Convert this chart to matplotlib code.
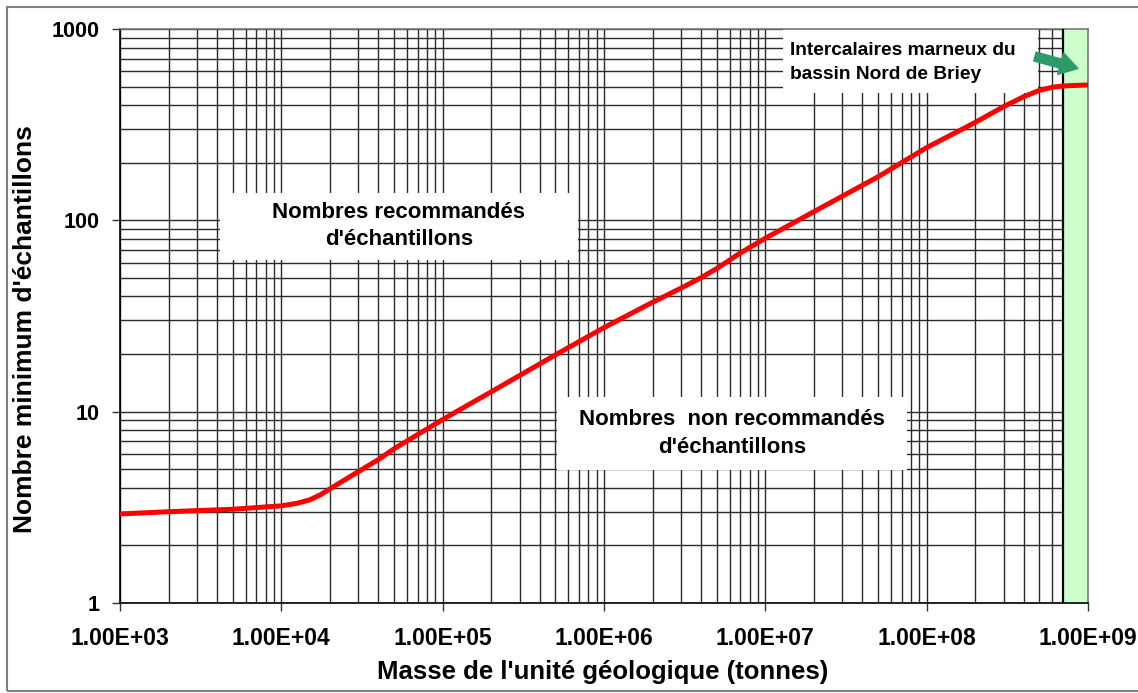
import matplotlib
matplotlib.use("Agg")
import matplotlib.pyplot as plt
from matplotlib.patches import Rectangle
from matplotlib.ticker import LogLocator, FixedLocator, NullFormatter

plt.rcParams['font.family'] = ['Liberation Sans', 'DejaVu Sans']
plt.rcParams['font.weight'] = 'bold'

# Data
masse = [1e3, 2e3, 5e3, 1e4, 1.25e4, 1.5e4, 1.75e4, 2e4, 3e4, 4e4, 5e4, 1e5, 2e5, 5e5,
         1e6, 2e6, 3e6, 4e6, 5e6, 7e6, 1e7, 2e7, 5e7, 1e8, 2e8, 3e8, 4e8, 5e8, 6e8, 7e8, 1e9]
nombre = [2.92, 3.0, 3.09, 3.22, 3.32, 3.46, 3.68, 3.95, 4.86, 5.62, 6.40, 9.1, 12.7, 19.8,
          27.5, 37.3, 44.2, 50.2, 56.0, 67.5, 80.6, 111, 169, 240, 325, 393, 443, 478, 496, 504, 510]
x_ticks = [1e3, 1e4, 1e5, 1e6, 1e7, 1e8, 1e9]
x_ticklabels = ["1.00E+03", "1.00E+04", "1.00E+05", "1.00E+06", "1.00E+07", "1.00E+08", "1.00E+09"]
y_ticks = [1, 10, 100, 1000]
y_ticklabels = ["1", "10", "100", "1000"]
zone_marneux = (7e8, 1e9)

fig = plt.figure(figsize=(11.38, 6.93), dpi=100)
ax = fig.add_axes([120/1138, 1-603/693, (1088-120)/1138, (603-29)/693])

ax.set_xscale('log')
ax.set_yscale('log')
ax.set_xlim(1e3, 1e9)
ax.set_ylim(1, 1000)

# grid
ax.xaxis.set_major_locator(FixedLocator(x_ticks))
ax.yaxis.set_major_locator(FixedLocator(y_ticks))
ax.xaxis.set_minor_locator(LogLocator(base=10, subs=range(2, 10)))
ax.yaxis.set_minor_locator(LogLocator(base=10, subs=range(2, 10)))
ax.xaxis.set_minor_formatter(NullFormatter())
ax.yaxis.set_minor_formatter(NullFormatter())
ax.grid(True, which='both', color='#2a2a2a', lw=1.0, zorder=0)
ax.set_axisbelow(True)

ax.set_xticks(x_ticks)
ax.set_xticklabels(x_ticklabels, fontsize=16.5, fontweight='bold')
ax.set_yticks(y_ticks)
ax.set_yticklabels(y_ticklabels, fontsize=15.5, fontweight='bold')
ax.tick_params(axis='x', which='major', length=6, width=1, pad=11, color='#333333')
ax.tick_params(axis='y', which='major', length=6, width=1, pad=9, color='#333333')
ax.tick_params(which='minor', length=0)

for s in ['left', 'bottom']:
    ax.spines[s].set_color('black')
    ax.spines[s].set_linewidth(1.2)
for s in ['top', 'right']:
    ax.spines[s].set_color('#777777')
    ax.spines[s].set_linewidth(1.2)

# green band
ax.axvspan(zone_marneux[0], zone_marneux[1], facecolor='#ccffcc', edgecolor='none', zorder=2)
ax.axvline(zone_marneux[0], color='black', lw=1.6, zorder=3)

# text boxes
ax.add_patch(Rectangle((0.1033, 0.5976), 0.3697, 0.1167, transform=ax.transAxes,
                       facecolor='white', edgecolor='none', zorder=2.5))
ax.text(0.288, 0.657, "Nombres recommandés\nd'échantillons", transform=ax.transAxes,
        ha='center', va='center', fontsize=16, fontweight='bold', zorder=5, linespacing=1.4)

ax.add_patch(Rectangle((0.4514, 0.2317), 0.3616, 0.1272, transform=ax.transAxes,
                       facecolor='white', edgecolor='none', zorder=2.5))
ax.text(0.632, 0.2953, "Nombres  non recommandés\nd'échantillons", transform=ax.transAxes,
        ha='center', va='center', fontsize=16, fontweight='bold', zorder=5, linespacing=1.4)

ax.add_patch(Rectangle((0.685, 0.8885), 0.263, 0.112, transform=ax.transAxes,
                       facecolor='white', edgecolor='none', zorder=2.5, clip_on=False))
ax.text(0.692, 0.9417, "Intercalaires marneux du\nbassin Nord de Briey", transform=ax.transAxes,
        ha='left', va='center', fontsize=13.8, fontweight='bold', zorder=5, linespacing=1.5)

# curve
ax.plot(masse, nombre, color='#ff0000', lw=3.6, zorder=4, solid_joinstyle='round')

# arrow (figure pixel coordinates)
ax.annotate('', xy=(1078, 693-68.5), xytext=(1035, 693-56.5), xycoords='figure pixels',
            textcoords='figure pixels',
            arrowprops=dict(arrowstyle='simple,head_width=0.8,head_length=0.65,tail_width=0.33',
                            mutation_scale=20, color='#2e9a6a', shrinkA=0, shrinkB=0),
            zorder=6, annotation_clip=False)

# axis labels
fig.text(603/1138, 1-672/693, "Masse de l'unité géologique (tonnes)", ha='center', va='center',
         fontsize=18.5, fontweight='bold')
fig.text(25/1138, 1-329/693, "Nombre minimum d'échantillons", ha='center', va='center',
         rotation=90, fontsize=19, fontweight='bold')

# figure frame
fig.patches.append(Rectangle((7/1138, 1-691/693), 1.2, (691-7)/693, transform=fig.transFigure,
                             facecolor='none', edgecolor='#808080', lw=1.5, figure=fig))

fig.savefig("out.png", dpi=100)
